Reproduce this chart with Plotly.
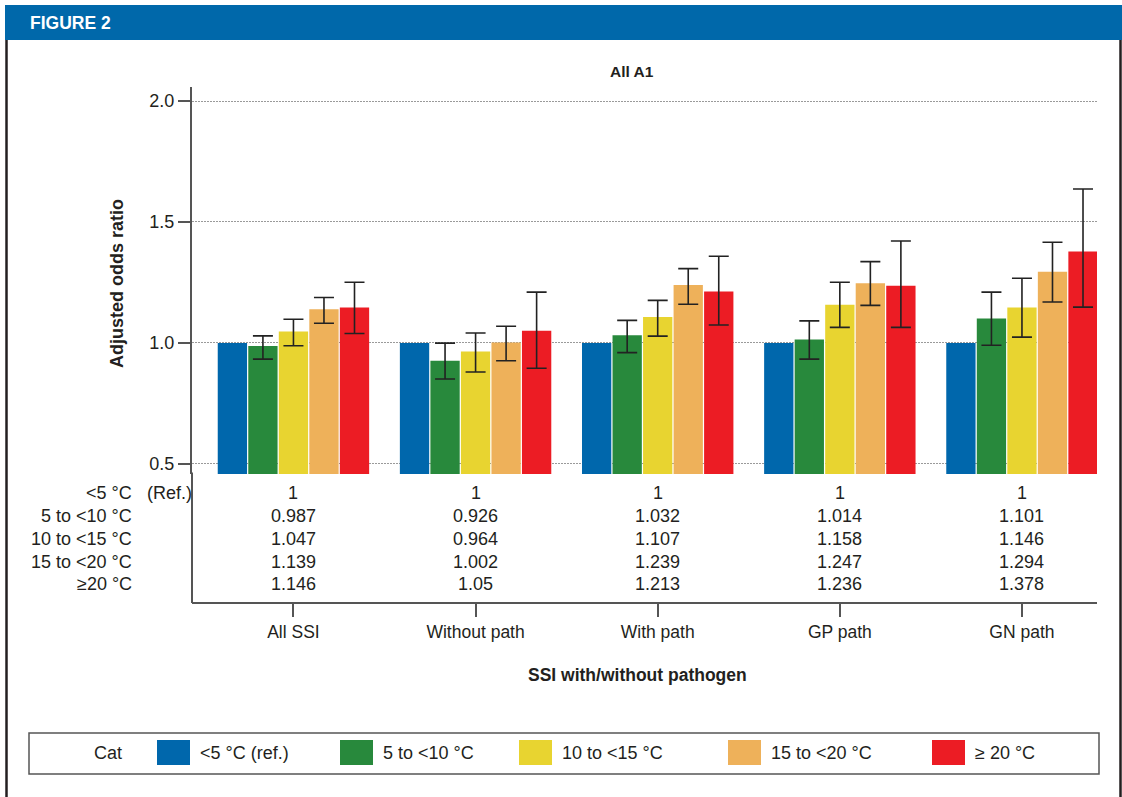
import plotly.graph_objects as go

# ---- data -------------------------------------------------------------
categories = ["All SSI", "Without path", "With path", "GP path", "GN path"]
temp_groups = ["<5 °C (ref.)", "5 to <10 °C", "10 to <15 °C", "15 to <20 °C", "≥ 20 °C"]
row_labels = ["<5 °C", "5 to <10 °C", "10 to <15 °C", "15 to <20 °C", "≥20 °C"]
colors = ["#0067AC", "#28893C", "#E8D430", "#EEB15A", "#EC1C24"]

or_ref = [1, 1, 1, 1, 1]
or_5_10 = [0.987, 0.926, 1.032, 1.014, 1.101]
or_10_15 = [1.047, 0.964, 1.107, 1.158, 1.146]
or_15_20 = [1.139, 1.002, 1.239, 1.247, 1.294]
or_20 = [1.146, 1.05, 1.213, 1.236, 1.378]

# 95% confidence limits (reference group has none)
lo_5_10 = [0.933, 0.851, 0.960, 0.933, 0.990]
hi_5_10 = [1.029, 0.999, 1.093, 1.091, 1.210]
lo_10_15 = [0.988, 0.880, 1.028, 1.064, 1.024]
hi_10_15 = [1.098, 1.041, 1.176, 1.251, 1.267]
lo_15_20 = [1.081, 0.926, 1.160, 1.155, 1.169]
hi_15_20 = [1.188, 1.069, 1.307, 1.336, 1.416]
lo_20 = [1.039, 0.895, 1.074, 1.064, 1.148]
hi_20 = [1.251, 1.210, 1.358, 1.421, 1.636]

y_ticks = [0.5, 1.0, 1.5, 2.0]
y_ticktext = ["0.5", "1.0", "1.5", "2.0"]

series = [
    (or_ref, None, None),
    (or_5_10, lo_5_10, hi_5_10),
    (or_10_15, lo_10_15, hi_10_15),
    (or_15_20, lo_15_20, hi_15_20),
    (or_20, lo_20, hi_20),
]

# ---- page geometry (pixels) ------------------------------------------
W, H = 1122, 797
PL, PR, PT, PB = 192, 1097, 87, 603   # plotting region incl. table
BAR_BOTTOM = 474                      # bottom of the bar panel

def px_x(px):
    return (px - PL) / (PR - PL)

def px_y(py):
    return (PB - py) / (PB - PT)

FONT = "Liberation Sans, Arial, sans-serif"
TXT = "#231F20"
FS = 18

fig = go.Figure()
x_idx = list(range(len(categories)))

for name, color, (vals, lo, hi) in zip(temp_groups, colors, series):
    err = None
    if lo is not None:
        err = dict(
            type="data", symmetric=False,
            array=[h - v for h, v in zip(hi, vals)],
            arrayminus=[v - l for v, l in zip(vals, lo)],
            color="#222222", thickness=1.6, width=10,
        )
    fig.add_trace(go.Bar(
        x=x_idx, y=vals, name=name, marker_color=color,
        marker_line_width=0, error_y=err, showlegend=False,
    ))

fig.update_layout(
    width=W, height=H,
    margin=dict(l=PL, r=W - PR, t=PT, b=H - PB),
    paper_bgcolor="white", plot_bgcolor="white",
    barmode="group", bargap=0.162, bargroupgap=0.04,
    font=dict(family=FONT, size=FS, color=TXT),
)

fig.update_yaxes(
    domain=[px_y(BAR_BOTTOM), 1], range=[0.458, 2.058],
    tickvals=y_ticks, ticktext=y_ticktext,
    showgrid=True, gridcolor="#9a9a9a", griddash="1.5px,1.5px", gridwidth=1,
    showline=True, linecolor="#555555", linewidth=2,
    ticks="outside", ticklen=12, tickwidth=2, tickcolor="#555555",
    zeroline=False, tickfont=dict(size=FS, color=TXT),
)
fig.update_xaxes(
    anchor="free", position=0, range=[-0.557, 4.412],
    tickvals=x_idx, ticktext=categories,
    showgrid=False, zeroline=False,
    showline=True, linecolor="#555555", linewidth=2,
    ticks="outside", ticklen=13, tickwidth=1.5, tickcolor="#555555",
    tickfont=dict(size=17.5, color=TXT),
)

shapes = []
annotations = []

# continue the y-axis line down through the value table
shapes.append(dict(type="line", xref="paper", yref="paper",
                   x0=0, x1=0, y0=0, y1=px_y(BAR_BOTTOM) + 0.003,
                   line=dict(color="#555555", width=2)))

# value table under the bars
row_y = [493, 516, 539, 562, 584]
for r, (label, (vals, _, _)) in enumerate(zip(row_labels, series)):
    annotations.append(dict(text=label, xref="paper", yref="paper",
                            x=px_x(134), y=px_y(row_y[r]), xanchor="right",
                            yanchor="middle", showarrow=False,
                            font=dict(size=FS, color=TXT)))
    for i, v in enumerate(vals):
        annotations.append(dict(text=f"{v:g}", xref="x", yref="paper",
                                x=i, y=px_y(row_y[r]), xanchor="center",
                                yanchor="middle", showarrow=False,
                                font=dict(size=FS, color=TXT)))
annotations.append(dict(text="(Ref.)", xref="paper", yref="paper",
                        x=px_x(145), y=px_y(row_y[0]), xanchor="left",
                        yanchor="middle", showarrow=False,
                        font=dict(size=FS, color=TXT)))

# titles
annotations.append(dict(text="<b>All A1</b>", xref="paper", yref="paper",
                        x=px_x(632), y=px_y(72), xanchor="center", yanchor="middle",
                        showarrow=False, font=dict(size=15.5, color=TXT)))
annotations.append(dict(text="<b>Adjusted odds ratio</b>", xref="paper", yref="paper",
                        x=px_x(117), y=px_y(284), xanchor="center", yanchor="middle",
                        textangle=-90, showarrow=False, font=dict(size=18, color=TXT)))
annotations.append(dict(text="<b>SSI with/without pathogen</b>", xref="paper", yref="paper",
                        x=px_x(637), y=px_y(675), xanchor="center", yanchor="middle",
                        showarrow=False, font=dict(size=17.5, color=TXT)))

# legend box
shapes.append(dict(type="rect", xref="paper", yref="paper",
                   x0=px_x(29), x1=px_x(1099), y0=px_y(774), y1=px_y(733),
                   line=dict(color="#555555", width=1.5), fillcolor="white"))
annotations.append(dict(text="Cat", xref="paper", yref="paper",
                        x=px_x(92), y=px_y(753), xanchor="left", yanchor="middle",
                        showarrow=False, font=dict(size=FS, color=TXT)))
swatch_x = [157, 340, 519, 728, 932]
for sx, name, color in zip(swatch_x, temp_groups, colors):
    shapes.append(dict(type="rect", xref="paper", yref="paper",
                       x0=px_x(sx), x1=px_x(sx + 33), y0=px_y(765), y1=px_y(740),
                       line=dict(width=0), fillcolor=color))
    annotations.append(dict(text=name, xref="paper", yref="paper",
                            x=px_x(sx + 41), y=px_y(753), xanchor="left",
                            yanchor="middle", showarrow=False,
                            font=dict(size=FS, color=TXT)))

# figure frame: header band and side rules
shapes.append(dict(type="rect", xref="paper", yref="paper",
                   x0=px_x(5), x1=px_x(1122), y0=px_y(40), y1=px_y(5),
                   line=dict(width=0), fillcolor="#0068AA"))
shapes.append(dict(type="line", xref="paper", yref="paper",
                   x0=px_x(6.5), x1=px_x(6.5), y0=px_y(797), y1=px_y(40),
                   line=dict(color="#231F20", width=2.5)))
shapes.append(dict(type="line", xref="paper", yref="paper",
                   x0=px_x(1120.5), x1=px_x(1120.5), y0=px_y(797), y1=px_y(40),
                   line=dict(color="#231F20", width=2.5)))
annotations.append(dict(text="<b>FIGURE 2</b>", xref="paper", yref="paper",
                        x=px_x(28), y=px_y(23), xanchor="left", yanchor="middle",
                        showarrow=False, font=dict(size=17.5, color="white")))

fig.update_layout(shapes=shapes, annotations=annotations)
fig.write_html("out.html")
